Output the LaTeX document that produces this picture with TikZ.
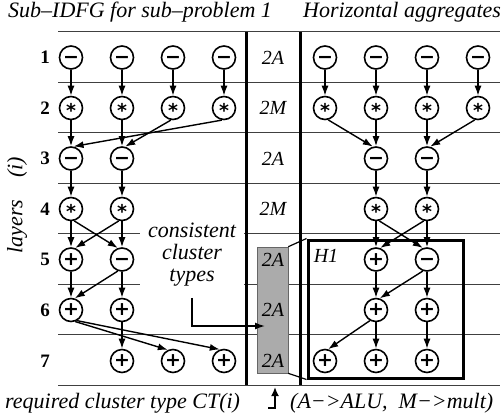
\documentclass[tikz,border=0pt]{standalone}
\usepackage[no-math]{fontspec}
\setmainfont{Liberation Serif}
\newfontfamily\opfont{DejaVu Sans}
\newcommand\opsym[1]{\opfont\bfseries\raisebox{-\dimexpr(\XeTeXglyphbounds2 \XeTeXcharglyph`#1 - \XeTeXglyphbounds4 \XeTeXcharglyph`#1)/2\relax}{#1}}
\usetikzlibrary{arrows.meta}
\begin{document}
\begin{tikzpicture}[x=1pt,y=-1pt,
  op/.style={circle,draw,line width=1.6pt,minimum size=23pt,inner sep=0pt,fill=white,text height=0pt,text depth=0pt,font=\fontsize{19}{19}\selectfont},
  arr/.style={-{Latex[length=10pt,width=7pt]},line width=1.4pt},
  sepline/.style={line width=0.9pt,black!75},
  thick bar/.style={line width=3pt},
  lay/.style={font=\fontsize{19}{19}\selectfont\bfseries,inner sep=0pt},
  ctlab/.style={font=\fontsize{20}{20}\selectfont\itshape,inner sep=0pt},
  ttl/.style={font=\fontsize{22}{22}\selectfont\itshape,inner sep=0pt},
]
\useasboundingbox (0,0) rectangle (502,413);

% layer separators
\foreach \y in {31.5,82,132.5,183,233.5,284,334.5,385}
  \draw[sepline] (58,\y) -- (500,\y);

% titles
\node[ttl,anchor=base west] (t1) at (8,17) {Sub–IDFG for sub–problem 1};
\node[ttl,anchor=base west] (t2) at (303,17) {Horizontal aggregates};

% layer axis label
\node[ttl,rotate=90] (axis) at (17,205) {layers\hspace{22pt}(i)};

% layer numbers
\foreach \i/\y in {1/57.5,2/108,3/158.5,4/209,5/259.5,6/310,7/361}
  \node[lay] (num\i) at (45,\y) {\i};

% consistent cluster types text
\node[ttl,fill=white,align=center,minimum width=104pt,inner xsep=0pt,inner ysep=2pt] (cct) at (192,255) {consistent\\cluster\\types};

% vertical bars
\draw[thick bar] (246,31.5) -- (246,385);
\draw[thick bar] (300,31.5) -- (300,385);

% gray box with required cluster types
\node[draw=black!60,fill=black!33,line width=0.6pt,minimum width=31pt,minimum height=126pt,inner sep=0pt] (gbox) at (272.5,310) {};

% middle labels
\node[ctlab] (c1) at (273,57.5) {2A};
\node[ctlab] (c2) at (273,108) {2M};
\node[ctlab] (c3) at (273,158.5) {2A};
\node[ctlab] (c4) at (273,209) {2M};
\node[ctlab] (c5) at (273,259.5) {2A};
\node[ctlab] (c6) at (273,310) {2A};
\node[ctlab] (c7) at (273,361) {2A};

% H1 box
\node[draw,line width=3pt,minimum width=155pt,minimum height=138pt,inner sep=0pt] (hbox) at (385.5,309) {};
\node[ctlab] (h1) at (326,256) {H1};
\draw[line width=1.2pt] (gbox.north east) -- (hbox.north west);
\draw[line width=1.2pt] (gbox.south east) -- (hbox.south west);

% arrow from text to gray box
\coordinate (tipp) at (265,326);
\draw[arr,shorten <=9pt] (cct.south) |- (tipp);

% ---------- left sub-IDFG ----------
\foreach \c/\x in {1/71,2/122,3/173,4/224}{
  \node[op] (l1\c) at (\x,57.5) {\opsym{−}};
  \node[op] (l2\c) at (\x,108) {\opsym{*}};
}
\node[op] (l31) at (71,158.5) {\opsym{−}};
\node[op] (l32) at (122,158.5) {\opsym{−}};
\node[op] (l41) at (71,209) {\opsym{*}};
\node[op] (l42) at (122,209) {\opsym{*}};
\node[op] (l51) at (71,259.5) {\opsym{+}};
\node[op] (l52) at (122,259.5) {\opsym{−}};
\node[op] (l61) at (71,310) {\opsym{+}};
\node[op] (l62) at (122,310) {\opsym{+}};
\node[op] (l72) at (122,361) {\opsym{+}};
\node[op] (l73) at (173,361) {\opsym{+}};
\node[op] (l74) at (224,361) {\opsym{+}};

\foreach \c in {1,2,3,4} \draw[arr] (l1\c) -- (l2\c);
\draw[arr] (l21) -- (l31);
\draw[arr] (l22) -- (l32);
\draw[arr] (l23.-100) -- (l32.75);
\draw[arr] (l24.-100) -- (l31.78);
\draw[arr] (l31) -- (l41);
\draw[arr] (l32) -- (l42);
\draw[arr] (l41) -- (l51);
\draw[arr] (l42) -- (l52);
\draw[arr] (l41.-75) -- (l52.110);
\draw[arr] (l42.-105) -- (l51.70);
\draw[arr] (l51) -- (l61);
\draw[arr] (l52.-110) -- (l61.72);
\draw[arr] (l52) -- (l62);
\draw[arr] (l62) -- (l72);
\draw[arr] (l61.-70) -- (l73.115);
\draw[arr] (l61.-60) -- (l74.110);

% ---------- right horizontal aggregates ----------
\foreach \c/\x in {1/325,2/376,3/427,4/478}{
  \node[op] (r1\c) at (\x,57.5) {\opsym{−}};
  \node[op] (r2\c) at (\x,108) {\opsym{*}};
}
\node[op] (r32) at (376,158.5) {\opsym{−}};
\node[op] (r33) at (427,158.5) {\opsym{−}};
\node[op] (r42) at (376,209) {\opsym{*}};
\node[op] (r43) at (427,209) {\opsym{*}};
\node[op] (r52) at (376,259.5) {\opsym{+}};
\node[op] (r53) at (427,259.5) {\opsym{−}};
\node[op] (r62) at (376,310) {\opsym{+}};
\node[op] (r63) at (427,310) {\opsym{+}};
\node[op] (r71) at (325,361) {\opsym{+}};
\node[op] (r72) at (376,361) {\opsym{+}};
\node[op] (r73) at (427,361) {\opsym{+}};

\foreach \c in {1,2,3,4} \draw[arr] (r1\c) -- (r2\c);
\draw[arr] (r21.-75) -- (r32.105);
\draw[arr] (r22) -- (r32);
\draw[arr] (r23) -- (r33);
\draw[arr] (r24.-105) -- (r33.75);
\draw[arr] (r32) -- (r42);
\draw[arr] (r33) -- (r43);
\draw[arr] (r42) -- (r52);
\draw[arr] (r43) -- (r53);
\draw[arr] (r42.-75) -- (r53.110);
\draw[arr] (r43.-105) -- (r52.70);
\draw[arr] (r52) -- (r62);
\draw[arr] (r53.-110) -- (r62.72);
\draw[arr] (r53) -- (r63);
\draw[arr] (r62.-120) -- (r71.75);
\draw[arr] (r62) -- (r72);
\draw[arr] (r63) -- (r73);

% bottom legend
\node[ttl,anchor=base west] (req) at (5,408) {required cluster type CT(i)};
\node[ttl,anchor=base west] (map) at (290,408) {(A−>ALU,\ \ M−>mult)};
\coordinate (ba0) at (268,408);
\coordinate (ba1) at (275,408);
\coordinate (ba2) at (275,387);
\draw[-{Latex[length=9pt,width=8pt]},line width=2pt] (ba0) -- (ba1) -- (ba2);
\end{tikzpicture}
\end{document}
